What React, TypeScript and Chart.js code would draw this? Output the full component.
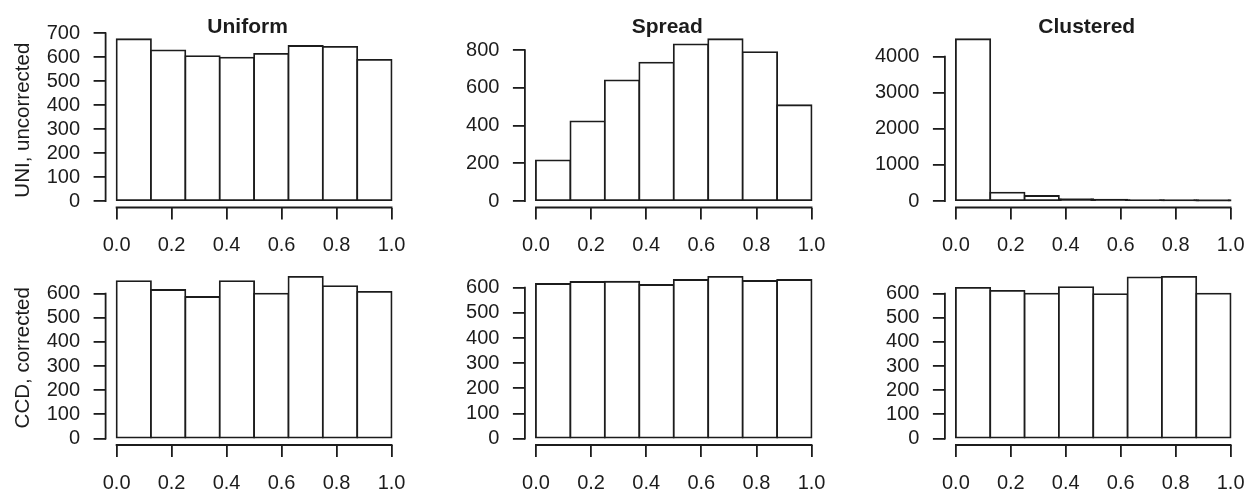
import React, { useEffect, useRef } from "react";
import { Chart, registerables } from "chart.js";

Chart.register(...registerables);

// ---------------- data ----------------
const binStarts = [0, 0.125, 0.25, 0.375, 0.5, 0.625, 0.75, 0.875];
const binWidth = 0.125;
const xTickValues = [0, 0.2, 0.4, 0.6, 0.8, 1.0];

const columnTitles = ["Uniform", "Spread", "Clustered"];
const rowLabels = ["UNI, uncorrected", "CCD, corrected"];

const uniformUncorrected = [675, 629, 605, 598, 614, 647, 643, 589];
const spreadUncorrected = [216, 423, 640, 734, 831, 858, 790, 508];
const clusteredUncorrected = [4480, 233, 139, 55, 35, 25, 18, 15];
const uniformCorrected = [652, 615, 586, 652, 600, 669, 631, 607];
const spreadCorrected = [615, 623, 624, 611, 631, 643, 627, 631];
const clusteredCorrected = [624, 611, 600, 627, 598, 667, 669, 600];

const yTicksUniformUncorrected = [0, 100, 200, 300, 400, 500, 600, 700];
const yTicksSpreadUncorrected = [0, 200, 400, 600, 800];
const yTicksClusteredUncorrected = [0, 1000, 2000, 3000, 4000];
const yTicksCorrected = [0, 100, 200, 300, 400, 500, 600];

// ---------------- layout / style ----------------
const INK = "#1c1c1c";
const LW = 1.8;
const FAMILY = '"Liberation Sans", Arial, Helvetica, sans-serif';
const COL_LEFT = [0, 420, 839];
const COL_WIDTH = 420;
const PLOT_X = [
  [105.6, 406.1],
  [524.9, 825.4],
  [944.9, 1245.5],
];
const ROW_TOP = [0, 245];
const ROW_HEIGHT = [265, 245];
const PLOT_Y = [
  [32.8, 207.5],
  [270.3, 445],
];
const YLAB_PAD_LEFT = 11;
const TITLE_SHIFT = -6.5;

const rAxesPlugin = {
  id: "rAxes",
  afterDraw(chart: any, _args: any, opts: any) {
    const { ctx, chartArea } = chart;
    const xs = chart.scales.x;
    const ys = chart.scales.y;
    ctx.save();
    ctx.strokeStyle = INK;
    ctx.lineWidth = LW;
    ctx.lineCap = "butt";
    // x axis line (from first to last tick), R style
    const x0 = xs.getPixelForValue(xs.ticks[0].value);
    const x1 = xs.getPixelForValue(xs.ticks[xs.ticks.length - 1].value);
    ctx.beginPath();
    ctx.moveTo(x0 - LW / 2, chartArea.bottom);
    ctx.lineTo(x1 + LW / 2, chartArea.bottom);
    ctx.stroke();
    // y axis line
    const y0 = ys.getPixelForValue(ys.ticks[0].value);
    const y1 = ys.getPixelForValue(ys.ticks[ys.ticks.length - 1].value);
    ctx.beginPath();
    ctx.moveTo(chartArea.left, y0 + LW / 2);
    ctx.lineTo(chartArea.left, y1 - LW / 2);
    ctx.stroke();
    // panel title
    if (opts && opts.title) {
      ctx.fillStyle = INK;
      ctx.font = `bold 21px ${FAMILY}`;
      ctx.textAlign = "center";
      ctx.textBaseline = "alphabetic";
      ctx.fillText(
        opts.title,
        (chartArea.left + chartArea.right) / 2 + TITLE_SHIFT,
        chartArea.top
      );
    }
    ctx.restore();
  },
};

type PanelProps = {
  counts: number[];
  yTicks: number[];
  title?: string;
  ylab?: string;
  col: number;
  row: number;
};

function Panel({ counts, yTicks, title, ylab, col, row }: PanelProps) {
  const ref = useRef<HTMLCanvasElement | null>(null);
  const left = COL_LEFT[col];
  const top = ROW_TOP[row];
  const width = COL_WIDTH;
  const height = ROW_HEIGHT[row];
  const [plotLeft, plotRight] = PLOT_X[col];
  const [plotTop, plotBottom] = PLOT_Y[row];

  useEffect(() => {
    if (!ref.current) return;
    const maxCount = Math.max(...counts);
    const padLeft = ylab ? YLAB_PAD_LEFT : 0;
    const tickFont = { family: FAMILY, size: 20 };
    // very short bars: outline strokes overlap into a solid band, as in R
    const fillFor = (c: any) => {
      const ys = c.chart.scales.y;
      const v = c.raw && typeof c.raw.y === "number" ? c.raw.y : 0;
      if (!ys) return "#ffffff";
      const h = Math.abs(ys.getPixelForValue(0) - ys.getPixelForValue(v));
      return h < 2.5 ? INK : "#ffffff";
    };
    const chart = new Chart(ref.current, {
      type: "bar",
      data: {
        datasets: [
          {
            data: binStarts.map((s, i) => ({ x: s + binWidth / 2, y: counts[i] })),
            backgroundColor: fillFor,
            borderColor: INK,
            borderWidth: LW,
            borderSkipped: false,
            inflateAmount: LW / 2,
            barPercentage: 1,
            categoryPercentage: 1,
          } as any,
        ],
      },
      options: {
        responsive: false,
        animation: false,
        events: [],
        layout: {
          padding: {
            left: padLeft,
            top: plotTop - top,
            right: left + width - plotRight,
            bottom: 0,
          },
        },
        plugins: {
          legend: { display: false },
          tooltip: { enabled: false },
          title: { display: false },
          rAxes: { title },
        } as any,
        scales: {
          x: {
            type: "linear",
            offset: false,
            min: -0.04,
            max: 1.04,
            bounds: "data",
            afterBuildTicks: (s: any) => {
              s.ticks = xTickValues.map((v) => ({ value: v }));
            },
            afterFit: (s: any) => {
              s.height = top + height - plotBottom;
            },
            grid: {
              display: true,
              offset: false,
              drawOnChartArea: false,
              drawTicks: true,
              tickLength: 12,
              color: INK,
              lineWidth: LW,
            },
            border: { display: false },
            ticks: {
              autoSkip: false,
              maxRotation: 0,
              minRotation: 0,
              padding: 14,
              color: INK,
              font: tickFont,
              callback: (v: any) => Number(v).toFixed(1),
            },
          },
          y: {
            type: "linear",
            offset: false,
            min: -0.04 * maxCount,
            max: 1.04 * maxCount,
            bounds: "data",
            afterBuildTicks: (s: any) => {
              s.ticks = yTicks.map((v) => ({ value: v }));
            },
            afterFit: (s: any) => {
              s.width = plotLeft - left - padLeft;
            },
            grid: {
              display: true,
              offset: false,
              drawOnChartArea: false,
              drawTicks: true,
              tickLength: 12,
              color: INK,
              lineWidth: LW,
            },
            border: { display: false },
            ticks: {
              autoSkip: false,
              padding: 13.5,
              color: INK,
              font: tickFont,
              callback: (v: any) => String(v),
            },
            title: {
              display: !!ylab,
              text: ylab || "",
              color: INK,
              font: { family: FAMILY, size: 20.5 },
              padding: 0,
            },
          },
        },
      } as any,
      plugins: [rAxesPlugin],
    });
    return () => chart.destroy();
  }, []);

  return (
    <canvas
      ref={ref}
      width={width}
      height={height}
      style={{
        position: "absolute",
        left,
        top,
        width,
        height,
      }}
    />
  );
}

export default function App() {
  return (
    <div
      style={{
        position: "absolute",
        left: 0,
        top: 0,
        width: 1259,
        height: 490,
        overflow: "hidden",
        background: "#ffffff",
      }}
    >
      <Panel counts={uniformUncorrected} yTicks={yTicksUniformUncorrected} title={columnTitles[0]} ylab={rowLabels[0]} col={0} row={0} />
      <Panel counts={spreadUncorrected} yTicks={yTicksSpreadUncorrected} title={columnTitles[1]} col={1} row={0} />
      <Panel counts={clusteredUncorrected} yTicks={yTicksClusteredUncorrected} title={columnTitles[2]} col={2} row={0} />
      <Panel counts={uniformCorrected} yTicks={yTicksCorrected} ylab={rowLabels[1]} col={0} row={1} />
      <Panel counts={spreadCorrected} yTicks={yTicksCorrected} col={1} row={1} />
      <Panel counts={clusteredCorrected} yTicks={yTicksCorrected} col={2} row={1} />
    </div>
  );
}
